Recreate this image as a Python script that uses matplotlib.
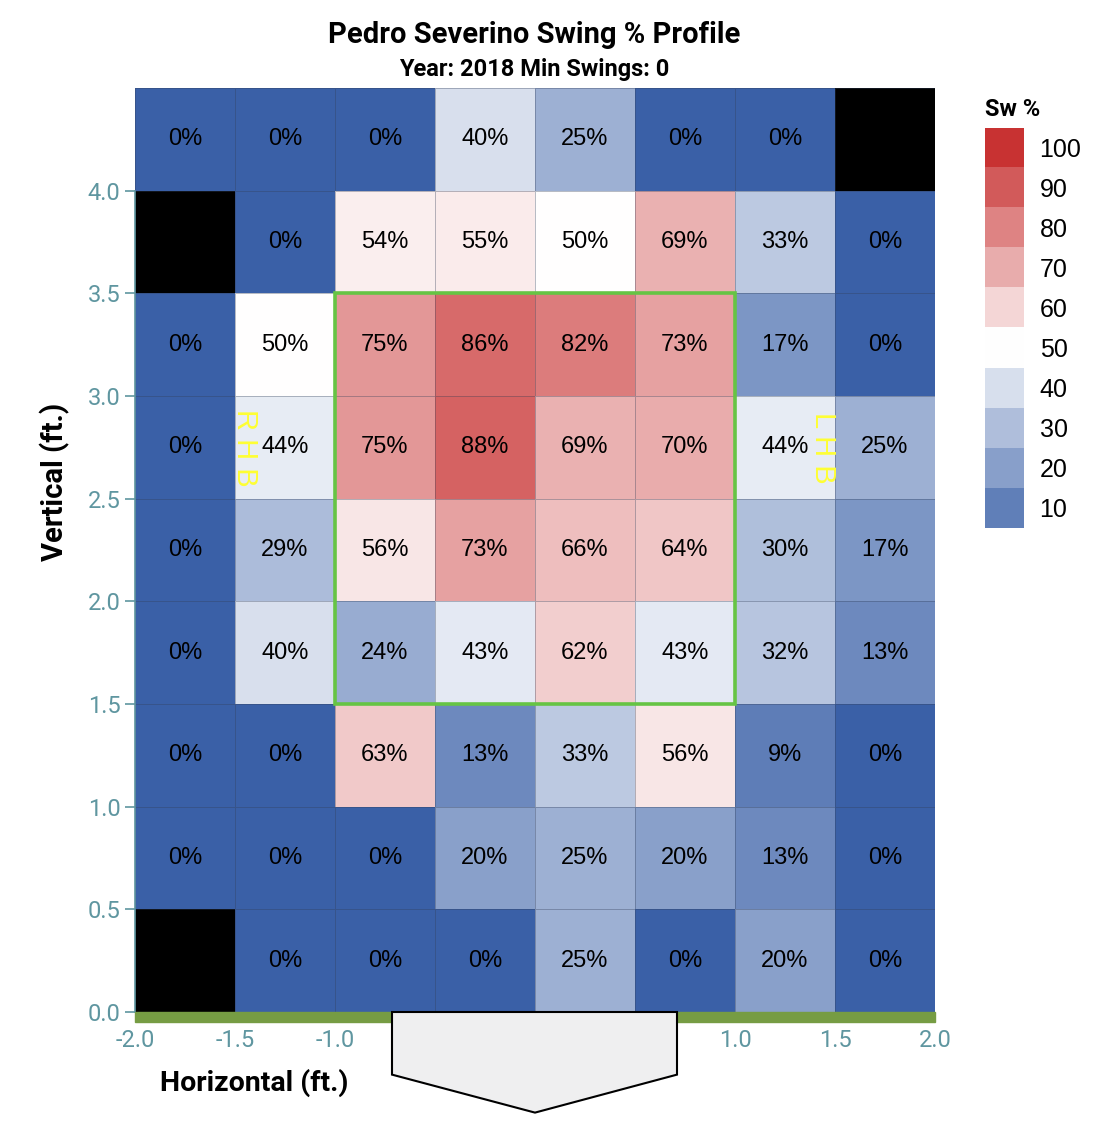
import numpy as np
import matplotlib
matplotlib.use("Agg")
import matplotlib.pyplot as plt
from matplotlib.colors import LinearSegmentedColormap, Normalize
from matplotlib.patches import Polygon, Rectangle

# swing % per zone, rows from top (4.0-4.5 ft) to bottom (0.0-0.5 ft), NaN = no pitches
x_edges = [-2.0, -1.5, -1.0, -0.5, 0.0, 0.5, 1.0, 1.5, 2.0]
y_edges = [4.5, 4.0, 3.5, 3.0, 2.5, 2.0, 1.5, 1.0, 0.5, 0.0]
swing_pct = [
    [0, 0, 0, 40, 25, 0, 0, np.nan],
    [np.nan, 0, 54, 55, 50, 69, 33, 0],
    [0, 50, 75, 86, 82, 73, 17, 0],
    [0, 44, 75, 88, 69, 70, 44, 25],
    [0, 29, 56, 73, 66, 64, 30, 17],
    [0, 40, 24, 43, 62, 43, 32, 13],
    [0, 0, 63, 13, 33, 56, 9, 0],
    [0, 0, 0, 20, 25, 20, 13, 0],
    [np.nan, 0, 0, 0, 25, 0, 20, 0],
]
legend_vals = [100, 90, 80, 70, 60, 50, 40, 30, 20, 10]
x_ticks = [-2.0, -1.5, -1.0, -0.5, 0.0, 0.5, 1.0, 1.5, 2.0]
y_ticks = [0.0, 0.5, 1.0, 1.5, 2.0, 2.5, 3.0, 3.5, 4.0]

teal = '#5f96a0'
narrow = ['Roboto', 'DejaVu Sans']
helv = ['Liberation Sans', 'DejaVu Sans']

cmap = LinearSegmentedColormap.from_list('sw', ['#3a60a7', '#ffffff', '#c83232'])
cmap.set_bad('black')
norm = Normalize(0, 100)

fig = plt.figure(figsize=(11.12, 11.28), dpi=100)
ax = fig.add_axes([135 / 1112, 1 - 1012 / 1128, 800 / 1112, 924 / 1128])

data = np.ma.masked_invalid(np.array(swing_pct, dtype=float))
ax.pcolormesh(x_edges, y_edges, data, cmap=cmap, norm=norm,
              edgecolors=(0.2, 0.25, 0.35, 0.35), linewidth=0.6)

for i in range(len(y_edges) - 1):
    for j in range(len(x_edges) - 1):
        v = swing_pct[i][j]
        if np.isnan(v):
            continue
        cx = (x_edges[j] + x_edges[j + 1]) / 2
        cy = (y_edges[i] + y_edges[i + 1]) / 2
        ax.text(cx, cy, f"{int(v)}%", ha='center', va='center', fontsize=17,
                family=helv, color='black')

# strike zone
ax.add_patch(Rectangle((-1.0, 1.5), 2.0, 2.0, fill=False, edgecolor='#66c444', lw=2.6, zorder=5))

# batter side labels
ax.text(-1.45, 2.75, "R H B", rotation=-90, ha='center', va='center', color='#ffff33',
        fontsize=21, family=helv, zorder=6)
ax.text(1.44, 2.75, "L H B", rotation=-90, ha='center', va='center', color='#ffff33',
        fontsize=21, family=helv, zorder=6)

# ground strip and home plate
ax.add_patch(Rectangle((-2.0, -0.05), 4.0, 0.05, color='#769c43', clip_on=False, zorder=4))
plate = [(-0.715, 0.0), (0.71, 0.0), (0.71, -0.305), (0.0, -0.49), (-0.715, -0.305)]
ax.add_patch(Polygon(plate, closed=True, facecolor='#efeff0', edgecolor='black', lw=1.5,
                     clip_on=False, zorder=10))

ax.set_xlim(-2, 2)
ax.set_ylim(0, 4.5)
ax.set_xticks(x_ticks)
ax.set_yticks(y_ticks)
ax.set_xticklabels([f"{t:.1f}" for t in x_ticks])
ax.set_yticklabels([f"{t:.1f}" for t in y_ticks])
ax.tick_params(axis='both', colors=teal, labelsize=17, length=7, width=1.2)
ax.tick_params(axis='x', pad=12, length=0)
for lab in ax.get_xticklabels() + ax.get_yticklabels():
    lab.set_family(narrow)
for s in ['top', 'right', 'bottom']:
    ax.spines[s].set_visible(False)
ax.spines['left'].set_color(teal)
ax.spines['left'].set_linewidth(1.2)
ax.spines['left'].set_bounds(0, 4)

fig.text(0.049, 0.573, "Vertical (ft.)", rotation=90, ha='center', va='center',
         fontsize=21, fontweight='bold', family=narrow)
fig.text(0.229, 0.040, "Horizontal (ft.)", ha='center', va='center',
         fontsize=20.5, fontweight='bold', family=narrow)
fig.text(0.480, 0.969, "Pedro Severino Swing % Profile", ha='center', va='center',
         fontsize=21, fontweight='bold', family=narrow)
fig.text(0.480, 0.938, "Year: 2018 Min Swings: 0", ha='center', va='center',
         fontsize=17, fontweight='bold', family=narrow)

# legend
lax = fig.add_axes([985 / 1112, 1 - 528 / 1128, 39 / 1112, 400 / 1128])
lax.imshow(np.array(legend_vals, dtype=float).reshape(-1, 1), cmap=cmap, norm=norm,
           aspect='auto', extent=(0, 1, len(legend_vals), 0))
lax.set_xlim(0, 1)
lax.set_ylim(len(legend_vals), 0)
lax.axis('off')
for k, v in enumerate(legend_vals):
    lax.text(1.4, k + 0.55, str(v), ha='left', va='center', fontsize=18,
             family=helv, transform=lax.transData, clip_on=False)
fig.text(985 / 1112, 1 - 110 / 1128, "Sw %", ha='left', va='center', fontsize=17,
         fontweight='bold', family=narrow)

fig.savefig('out.png', dpi=100)
